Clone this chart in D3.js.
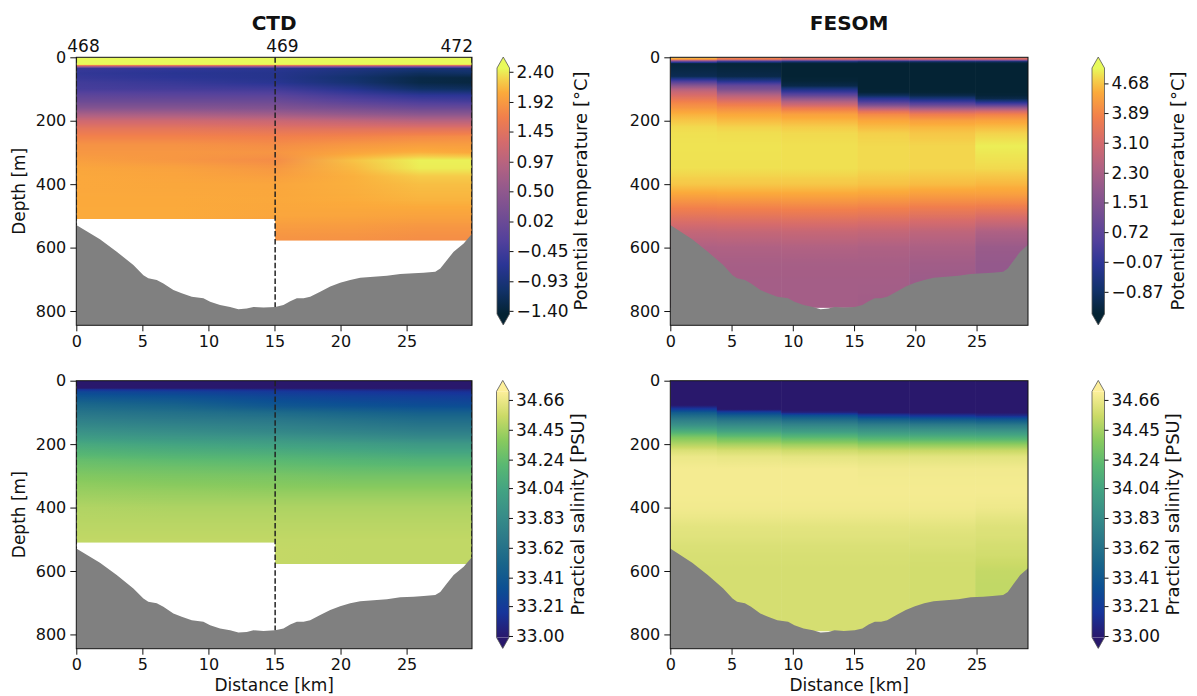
<!DOCTYPE html>
<html>
<head>
<meta charset="utf-8">
<script src="https://cdn.jsdelivr.net/npm/d3@7"></script>
<style>
  body { margin: 0; background: #fff; }
  svg { display: block; font-family: "DejaVu Sans", sans-serif; }
</style>
</head>
<body>
<svg id="fig" width="1197" height="696"></svg>
<script>
// CTD vs FESOM section: potential temperature (top) and salinity (bottom)

// bottom topography along the section
const BATHY_KM = [0, 1.79, 3.06, 4.32, 5.08, 5.45, 6.09, 6.59, 7.35, 7.98, 8.74, 9.62, 10.13, 10.88, 11.64, 12.27, 12.90, 13.41, 14.17, 15.05,
  15.68, 16.19, 16.69, 17.20, 17.70, 18.46, 19.22, 19.97, 20.73, 21.49, 22.50, 23.51, 24.52, 25.53, 26.29, 27.17, 27.55, 28.06, 28.56, 29.32, 29.97];
const BATHY_DEPTH = [529, 574, 613, 655, 687, 697, 702, 713, 734, 744, 755, 760, 771, 781, 787, 794, 792, 787, 789, 787,
  781, 769, 760, 760, 755, 739, 723, 711, 702, 695, 692, 689, 683, 681, 679, 676, 666, 639, 613, 587, 555];

// CTD stations
const STATIONS = ["468", "469", "472"];
const STATION_KM = [0, 15.05, 29.95];
const SEG_BOTTOM = [510, 578];   // deepest common data between neighbouring casts

// CTD gridded section (columns along the section, rows in depth)
const CTD_COL_KM = [0, 7.5, 15.05, 21, 26, 29.95];
const CTD_DEPTH = [0, 22, 28, 35, 50, 65, 80, 100, 120, 140, 160, 180, 200, 225, 250, 275, 300, 325, 350, 375, 400, 450, 500, 540, 580];
const CTD_TEMP = [
  [2.6, 2.6, 1.0, -0.55, -0.6, -0.55, -0.45, -0.4, -0.15, 0.05, 0.35, 0.8, 1.2, 1.5, 1.7, 1.85, 1.9, 1.97, 2.03, 2.05, 2.05, 2.06, 2.07, 2.07, 2.07],
  [2.6, 2.6, 0.9, -0.6, -0.7, -0.65, -0.55, -0.42, -0.18, 0.05, 0.35, 0.78, 1.2, 1.5, 1.7, 1.85, 1.9, 1.9, 2.0, 2.02, 2.04, 2.06, 2.07, 2.07, 2.07],
  [2.6, 2.6, 0.8, -0.7, -0.75, -0.75, -0.7, -0.45, -0.2, 0.05, 0.3, 0.7, 1.15, 1.45, 1.68, 1.8, 1.88, 1.8, 1.9, 1.97, 2.03, 2.05, 2.03, 1.93, 1.85],
  [2.6, 2.6, 0.7, -0.85, -0.95, -1.05, -1.0, -0.75, -0.45, -0.2, 0.15, 0.55, 1.05, 1.45, 1.72, 1.9, 2.02, 2.2, 2.15, 2.1, 2.1, 2.08, 2.02, 1.92, 1.84],
  [2.6, 2.6, 0.6, -0.95, -1.15, -1.3, -1.3, -1.1, -0.65, -0.35, 0.0, 0.45, 0.95, 1.45, 1.78, 1.95, 2.1, 2.42, 2.4, 2.25, 2.18, 2.12, 2.0, 1.88, 1.8],
  [2.6, 2.6, 0.6, -0.95, -1.1, -1.35, -1.35, -1.15, -0.67, -0.4, 0.0, 0.45, 0.95, 1.45, 1.8, 1.95, 2.05, 2.42, 2.4, 2.25, 2.18, 2.12, 2.0, 1.88, 1.8]
];
const CTD_SAL = [
  [32.93, 32.95, 33.15, 33.28, 33.38, 33.47, 33.55, 33.64, 33.72, 33.8, 33.88, 33.97, 34.07, 34.16, 34.25, 34.3, 34.35, 34.39, 34.42, 34.45, 34.48, 34.5, 34.52, 34.52, 34.52],
  [32.93, 32.95, 33.13, 33.25, 33.35, 33.43, 33.5, 33.6, 33.68, 33.76, 33.84, 33.93, 34.03, 34.12, 34.22, 34.28, 34.33, 34.37, 34.41, 34.44, 34.47, 34.5, 34.52, 34.52, 34.52],
  [32.93, 32.95, 33.1, 33.2, 33.28, 33.34, 33.4, 33.55, 33.65, 33.73, 33.8, 33.9, 34.0, 34.1, 34.2, 34.26, 34.32, 34.36, 34.4, 34.44, 34.47, 34.5, 34.52, 34.53, 34.53],
  [32.93, 32.95, 33.08, 33.17, 33.25, 33.3, 33.36, 33.5, 33.6, 33.68, 33.76, 33.86, 33.97, 34.07, 34.17, 34.24, 34.3, 34.35, 34.4, 34.44, 34.47, 34.5, 34.52, 34.52, 34.52],
  [32.93, 32.95, 33.07, 33.15, 33.23, 33.28, 33.33, 33.46, 33.56, 33.64, 33.72, 33.82, 33.94, 34.04, 34.15, 34.23, 34.3, 34.35, 34.4, 34.44, 34.47, 34.5, 34.52, 34.52, 34.52],
  [32.93, 32.95, 33.06, 33.14, 33.22, 33.27, 33.32, 33.46, 33.56, 33.64, 33.72, 33.82, 33.94, 34.04, 34.15, 34.23, 34.3, 34.35, 34.4, 34.44, 34.47, 34.5, 34.52, 34.52, 34.52]
];

// FESOM model columns (cell edges along the section)
const FESOM_EDGES = [0, 3.8, 9.05, 15.3, 19.5, 24.9, 29.2];
const FESOM_DEPTH = [0, 6, 14, 20, 60, 75, 90, 100, 110, 120, 130, 140, 150, 160, 170, 180, 200, 220, 240, 280, 350, 400, 430, 460, 490, 520, 550, 600, 650, 700, 790];
const FESOM_TEMP = [
  [4.6, 4.4, 0.5, -1.35, -1.1, 0.3, 1.7, 2.45, 2.9, 3.2, 3.5, 3.8, 4.0, 4.15, 4.35, 4.5, 4.7, 4.85, 4.9, 4.92, 4.9, 4.7, 4.4, 4.0, 3.6, 3.2, 2.8, 2.4, 2.25, 2.2, 2.2],
  [3.9, 3.7, -0.3, -1.4, -1.2, -0.3, 0.9, 1.3, 1.95, 2.55, 3.0, 3.4, 3.75, 4.0, 4.2, 4.4, 4.6, 4.8, 4.88, 4.92, 4.9, 4.7, 4.42, 4.02, 3.62, 3.22, 2.82, 2.42, 2.25, 2.2, 2.2],
  [3.5, 3.3, -0.8, -1.45, -1.45, -1.4, -1.2, -0.5, 0.1, 0.8, 1.7, 2.45, 3.0, 3.6, 4.0, 4.3, 4.55, 4.75, 4.85, 4.9, 4.9, 4.7, 4.42, 4.05, 3.65, 3.25, 2.85, 2.45, 2.25, 2.2, 2.2],
  [3.4, 3.2, -1.0, -1.45, -1.45, -1.45, -1.45, -1.45, -1.4, -1.0, -0.2, 0.4, 1.3, 2.4, 3.4, 3.95, 4.4, 4.6, 4.78, 4.85, 4.85, 4.65, 4.38, 4.0, 3.6, 3.2, 2.8, 2.4, 2.25, 2.2, 2.15],
  [3.4, 3.2, -1.0, -1.45, -1.45, -1.45, -1.45, -1.45, -1.42, -1.2, -0.6, 0.1, 0.9, 2.0, 3.0, 3.7, 4.3, 4.55, 4.7, 4.82, 4.82, 4.6, 4.3, 3.92, 3.5, 3.1, 2.7, 2.35, 2.15, 2.05, 2.05],
  [3.4, 3.2, -1.0, -1.45, -1.45, -1.45, -1.45, -1.45, -1.45, -1.4, -1.2, -0.4, 0.6, 2.0, 3.1, 3.8, 4.35, 4.6, 4.8, 5.0, 4.85, 4.55, 4.3, 3.9, 3.4, 2.9, 2.4, 2.0, 1.9, 1.9, 1.9]
];
const FESOM_SAL = [
  [32.9, 32.9, 32.9, 32.9, 32.92, 32.95, 33.2, 33.42, 33.56, 33.68, 33.79, 33.88, 34.0, 34.12, 34.25, 34.36, 34.48, 34.6, 34.66, 34.69, 34.69, 34.68, 34.66, 34.63, 34.62, 34.6, 34.59, 34.58, 34.58, 34.58, 34.58],
  [32.9, 32.9, 32.9, 32.9, 32.92, 32.94, 32.97, 33.25, 33.45, 33.6, 33.72, 33.83, 33.93, 34.04, 34.16, 34.28, 34.45, 34.58, 34.65, 34.69, 34.69, 34.68, 34.66, 34.63, 34.62, 34.6, 34.59, 34.58, 34.58, 34.58, 34.58],
  [32.9, 32.9, 32.9, 32.9, 32.92, 32.94, 32.96, 33.05, 33.35, 33.52, 33.66, 33.78, 33.88, 33.98, 34.1, 34.22, 34.42, 34.56, 34.64, 34.69, 34.69, 34.68, 34.66, 34.63, 34.62, 34.6, 34.59, 34.58, 34.58, 34.58, 34.58],
  [32.9, 32.9, 32.9, 32.9, 32.92, 32.94, 32.96, 32.98, 33.2, 33.42, 33.58, 33.72, 33.83, 33.93, 34.04, 34.15, 34.38, 34.54, 34.63, 34.68, 34.69, 34.68, 34.66, 34.63, 34.62, 34.6, 34.59, 34.58, 34.58, 34.58, 34.58],
  [32.9, 32.9, 32.9, 32.9, 32.92, 32.94, 32.96, 32.98, 33.15, 33.38, 33.55, 33.7, 33.82, 33.93, 34.04, 34.15, 34.38, 34.54, 34.63, 34.68, 34.69, 34.68, 34.66, 34.63, 34.61, 34.6, 34.58, 34.57, 34.57, 34.57, 34.57],
  [32.9, 32.9, 32.9, 32.9, 32.92, 32.94, 32.96, 32.98, 33.1, 33.35, 33.52, 33.68, 33.8, 33.92, 34.03, 34.14, 34.38, 34.54, 34.63, 34.68, 34.69, 34.67, 34.64, 34.61, 34.6, 34.58, 34.57, 34.53, 34.52, 34.52, 34.52]
];

// axis / colorbar ticks
const X_TICKS = [0, 5, 10, 15, 20, 25];
const Y_TICKS = [0, 200, 400, 600, 800];
const CTD_TEMP_TICKS = [-1.40, -0.93, -0.45, 0.02, 0.50, 0.97, 1.45, 1.92, 2.40];
const FESOM_TEMP_TICKS = [-0.87, -0.07, 0.72, 1.51, 2.30, 3.10, 3.89, 4.68];
const SAL_TICKS = [33.00, 33.21, 33.41, 33.62, 33.83, 34.04, 34.24, 34.45, 34.66];

// cmocean-like colour maps
const THERMAL_POS = [0, .1, .2, .3, .4, .5, .6, .7, .8, .9, .95, 1];
const THERMAL = ["#042333", "#12326b", "#2b3595", "#53419c", "#724d93", "#90588d", "#b26282", "#d56b6c", "#f17f4c", "#fbaa3b", "#f5ce4a", "#e8fa5b"];
const HALINE_POS = [0, .1, .2, .3, .4, .5, .6, .7, .8, .9, 1];
const HALINE = ["#29186c", "#17349a", "#0c4f93", "#19658a", "#2b7989", "#388e88", "#43a382", "#59b872", "#88ca5e", "#cbda67", "#fdef9a"];

const FONT = "DejaVu Sans, sans-serif";
const DEPTH_MAX = 845;
const PLOT_H = 268;

const svg = d3.select("#fig");
const defs = svg.append("defs");
let uid = 0;

function cmap(domain, pos, colors) {
  return d3.scaleLinear()
    .domain(pos.map(p => domain[0] + p * (domain[1] - domain[0])))
    .range(colors)
    .interpolate(d3.interpolateRgb)
    .clamp(true);
}

function makePanel(left, top, width, xMax) {
  const x = d3.scaleLinear().domain([0, xMax]).range([left, left + width]);
  const y = d3.scaleLinear().domain([0, DEPTH_MAX]).range([top, top + PLOT_H]);
  const clipId = "clip" + (uid++);
  defs.append("clipPath").attr("id", clipId)
    .append("rect").attr("x", left).attr("y", top).attr("width", width).attr("height", PLOT_H);
  const g = svg.append("g").attr("clip-path", "url(#" + clipId + ")");
  return { x, y, g, left, top, width, xMax };
}

function drawCtdField(p, cols, color) {
  // data region: between neighbouring casts down to the shallower cast
  let pts = [[0, 0], [STATION_KM[STATION_KM.length - 1], 0]];
  for (let i = SEG_BOTTOM.length - 1; i >= 0; i--) {
    pts.push([STATION_KM[i + 1], SEG_BOTTOM[i]]);
    pts.push([STATION_KM[i], SEG_BOTTOM[i]]);
  }
  const clipId = "clip" + (uid++);
  defs.append("clipPath").attr("id", clipId).append("path")
    .attr("d", "M" + pts.map(d => p.x(d[0]) + "," + p.y(d[1])).join("L") + "Z");
  const fg = p.g.append("g").attr("clip-path", "url(#" + clipId + ")");

  const prof = cols.map(c => d3.scaleLinear().domain(CTD_DEPTH).range(c));
  const kmEnd = CTD_COL_KM[CTD_COL_KM.length - 1];
  const yStart = Math.floor(p.y(0));
  const yEnd = Math.ceil(p.y(d3.max(SEG_BOTTOM)));
  for (let py = yStart; py < yEnd; py++) {
    const depth = Math.max(0, p.y.invert(py + 0.5));
    const id = "gr" + (uid++);
    const grad = defs.append("linearGradient").attr("id", id)
      .attr("gradientUnits", "userSpaceOnUse")
      .attr("x1", p.x(0)).attr("x2", p.x(kmEnd)).attr("y1", 0).attr("y2", 0);
    CTD_COL_KM.forEach((km, i) => {
      grad.append("stop").attr("offset", km / kmEnd).attr("stop-color", color(prof[i](depth)));
    });
    fg.append("rect").attr("x", p.x(0)).attr("y", py)
      .attr("width", p.x(kmEnd) - p.x(0)).attr("height", 1.3)
      .attr("fill", "url(#" + id + ")");
  }
}

function drawFesomField(p, cols, color) {
  const dMax = FESOM_DEPTH[FESOM_DEPTH.length - 1];
  cols.forEach((c, i) => {
    const prof = d3.scaleLinear().domain(FESOM_DEPTH).range(c);
    const id = "gr" + (uid++);
    const grad = defs.append("linearGradient").attr("id", id)
      .attr("gradientUnits", "userSpaceOnUse")
      .attr("x1", 0).attr("x2", 0).attr("y1", p.y(0)).attr("y2", p.y(dMax));
    for (let d = 0; d <= dMax; d += 2) {
      grad.append("stop").attr("offset", d / dMax).attr("stop-color", color(prof(d)));
    }
    p.g.append("rect")
      .attr("x", p.x(FESOM_EDGES[i])).attr("y", p.y(0))
      .attr("width", p.x(FESOM_EDGES[i + 1]) - p.x(FESOM_EDGES[i]) + 0.6)
      .attr("height", p.y(dMax) - p.y(0))
      .attr("fill", "url(#" + id + ")");
  });
}

function drawBathy(p) {
  const area = d3.area()
    .x((d, i) => p.x(BATHY_KM[i]))
    .y0(p.y(DEPTH_MAX))
    .y1(d => p.y(d));
  p.g.append("path").attr("d", area(BATHY_DEPTH)).attr("fill", "#808080");
}

function drawStations(p) {
  const bottomAt = d3.scaleLinear().domain(BATHY_KM).range(BATHY_DEPTH);
  STATION_KM.forEach(km => {
    p.g.append("line")
      .attr("x1", p.x(km)).attr("x2", p.x(km))
      .attr("y1", p.y(0)).attr("y2", p.y(bottomAt(km)))
      .attr("stroke", "#222").attr("stroke-width", 1.5)
      .attr("stroke-dasharray", "5.5,2.4");
  });
}

function drawStationLabels(p) {
  STATIONS.forEach((s, i) => {
    const last = i === STATIONS.length - 1;
    svg.append("text")
      .attr("x", last ? p.x(STATION_KM[i]) + 1 : p.x(STATION_KM[i]) - 9)
      .attr("y", p.top - 5)
      .attr("text-anchor", last ? "end" : "start")
      .attr("font-size", 17).attr("font-family", FONT).attr("fill", "#111")
      .text(s);
  });
}

function drawAxes(p, xLabel, yLabel) {
  const bottom = p.top + PLOT_H;
  const gx = svg.append("g").attr("transform", "translate(0," + bottom + ")")
    .call(d3.axisBottom(p.x).tickValues(X_TICKS).tickFormat(d3.format("d")).tickSize(6).tickPadding(4));
  const gy = svg.append("g").attr("transform", "translate(" + p.left + ",0)")
    .call(d3.axisLeft(p.y).tickValues(Y_TICKS).tickFormat(d3.format("d")).tickSize(6).tickPadding(4));
  [gx, gy].forEach(g => {
    g.attr("font-size", 16).attr("font-family", FONT).attr("color", "#111");
    g.select(".domain").remove();
    g.selectAll(".tick line").attr("stroke-width", 1);
  });
  svg.append("rect").attr("x", p.left).attr("y", p.top)
    .attr("width", p.width).attr("height", PLOT_H)
    .attr("fill", "none").attr("stroke", "#111").attr("stroke-width", 1);
  if (xLabel) {
    svg.append("text").attr("x", p.left + p.width / 2).attr("y", bottom + 42)
      .attr("text-anchor", "middle").attr("font-size", 17).attr("font-family", FONT).attr("fill", "#111")
      .text(xLabel);
  }
  if (yLabel) {
    svg.append("text")
      .attr("transform", "translate(25," + (p.top + PLOT_H / 2) + ") rotate(-90)")
      .attr("text-anchor", "middle").attr("font-size", 17).attr("font-family", FONT).attr("fill", "#111")
      .text(yLabel);
  }
}

function drawTitle(p, title) {
  svg.append("text").attr("x", p.left + p.width / 2).attr("y", 30)
    .attr("text-anchor", "middle").attr("font-size", 20).attr("font-weight", "bold")
    .attr("font-family", FONT).attr("fill", "#111")
    .text(title);
}

function drawColorbar(o) {
  const w = 12.5, ext = 11;
  const s = d3.scaleLinear().domain(o.domain).range([o.bottom, o.top]);
  const id = "gr" + (uid++);
  const grad = defs.append("linearGradient").attr("id", id)
    .attr("gradientUnits", "userSpaceOnUse")
    .attr("x1", 0).attr("x2", 0).attr("y1", o.bottom).attr("y2", o.top);
  o.pos.forEach((p, i) => grad.append("stop").attr("offset", p).attr("stop-color", o.colors[i]));
  const g = svg.append("g");
  g.append("rect").attr("x", o.x).attr("y", o.top).attr("width", w).attr("height", o.bottom - o.top)
    .attr("fill", "url(#" + id + ")");
  g.append("path")
    .attr("d", "M" + o.x + "," + o.top + "L" + (o.x + w / 2) + "," + (o.top - ext) + "L" + (o.x + w) + "," + o.top + "Z")
    .attr("fill", o.colors[o.colors.length - 1]);
  g.append("path")
    .attr("d", "M" + o.x + "," + o.bottom + "L" + (o.x + w / 2) + "," + (o.bottom + ext) + "L" + (o.x + w) + "," + o.bottom + "Z")
    .attr("fill", o.colors[0]);
  g.append("path")
    .attr("d", "M" + o.x + "," + o.bottom + "L" + o.x + "," + o.top + "L" + (o.x + w / 2) + "," + (o.top - ext) +
      "L" + (o.x + w) + "," + o.top + "L" + (o.x + w) + "," + o.bottom + "L" + (o.x + w / 2) + "," + (o.bottom + ext) + "Z")
    .attr("fill", "none").attr("stroke", "#555").attr("stroke-width", 0.8);
  const ga = svg.append("g").attr("transform", "translate(" + (o.x + w) + ",0)")
    .call(d3.axisRight(s).tickValues(o.ticks).tickFormat(d3.format(".2f")).tickSize(4).tickPadding(3));
  ga.attr("font-size", 17).attr("font-family", FONT).attr("color", "#111");
  ga.select(".domain").remove();
  svg.append("text")
    .attr("transform", "translate(" + o.labelX + "," + ((o.top + o.bottom) / 2) + ") rotate(-90)")
    .attr("text-anchor", "middle").attr("font-size", 18).attr("font-family", FONT).attr("fill", "#111")
    .text(o.label);
}

// ---- layout ----
const ROW_TOP = [57.3, 380.7];
const CB_BODY = [[68, 314], [391.4, 637.4]];

const CTD_T_DOMAIN = [-1.45, 2.46];
const FES_T_DOMAIN = [-1.46, 5.09];
const SAL_DOMAIN = [32.99, 34.72];

const cCtdT = cmap(CTD_T_DOMAIN, THERMAL_POS, THERMAL);
const cFesT = cmap(FES_T_DOMAIN, THERMAL_POS, THERMAL);
const cSal = cmap(SAL_DOMAIN, HALINE_POS, HALINE);

// top-left: CTD temperature
const p1 = makePanel(76.3, ROW_TOP[0], 395.7, STATION_KM[2]);
drawCtdField(p1, CTD_TEMP, cCtdT);
drawBathy(p1);
drawStations(p1);
drawAxes(p1, null, "Depth [m]");
drawTitle(p1, "CTD");
drawStationLabels(p1);
drawColorbar({ x: 497, top: CB_BODY[0][0], bottom: CB_BODY[0][1], domain: CTD_T_DOMAIN,
  pos: THERMAL_POS, colors: THERMAL, ticks: CTD_TEMP_TICKS, label: "Potential temperature [°C]", labelX: 587 });

// top-right: FESOM temperature
const p2 = makePanel(670.3, ROW_TOP[0], 357.7, FESOM_EDGES[FESOM_EDGES.length - 1]);
drawFesomField(p2, FESOM_TEMP, cFesT);
drawBathy(p2);
drawAxes(p2, null, null);
drawTitle(p2, "FESOM");
drawColorbar({ x: 1092, top: CB_BODY[0][0], bottom: CB_BODY[0][1], domain: FES_T_DOMAIN,
  pos: THERMAL_POS, colors: THERMAL, ticks: FESOM_TEMP_TICKS, label: "Potential temperature [°C]", labelX: 1184 });

// bottom-left: CTD salinity
const p3 = makePanel(76.3, ROW_TOP[1], 395.7, STATION_KM[2]);
drawCtdField(p3, CTD_SAL, cSal);
drawBathy(p3);
drawStations(p3);
drawAxes(p3, "Distance [km]", "Depth [m]");
drawColorbar({ x: 496.5, top: CB_BODY[1][0], bottom: CB_BODY[1][1], domain: SAL_DOMAIN,
  pos: HALINE_POS, colors: HALINE, ticks: SAL_TICKS, label: "Practical salinity [PSU]", labelX: 584 });

// bottom-right: FESOM salinity
const p4 = makePanel(670.3, ROW_TOP[1], 357.7, FESOM_EDGES[FESOM_EDGES.length - 1]);
drawFesomField(p4, FESOM_SAL, cSal);
drawBathy(p4);
drawAxes(p4, "Distance [km]", null);
drawColorbar({ x: 1092, top: CB_BODY[1][0], bottom: CB_BODY[1][1], domain: SAL_DOMAIN,
  pos: HALINE_POS, colors: HALINE, ticks: SAL_TICKS, label: "Practical salinity [PSU]", labelX: 1179 });
</script>
</body>
</html>
